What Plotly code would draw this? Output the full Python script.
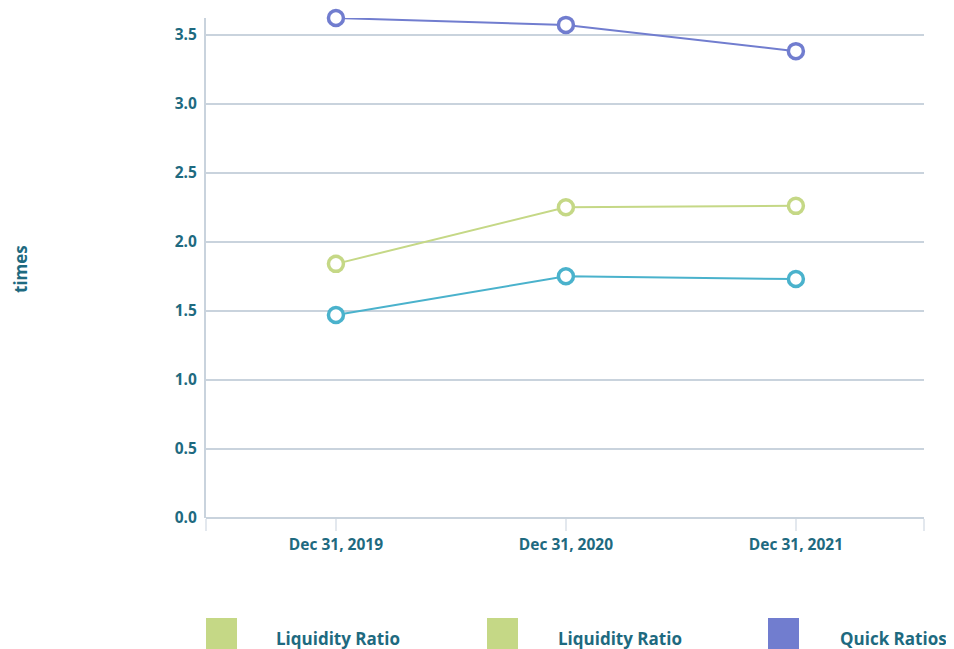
import plotly.graph_objects as go

categories = ["Dec 31, 2019", "Dec 31, 2020", "Dec 31, 2021"]
current_ratio = [1.47, 1.75, 1.73]
liquidity_ratio = [1.84, 2.25, 2.26]
quick_ratio = [3.62, 3.57, 3.38]
legend_labels = ["Liquidity Ratio", "Liquidity Ratio", "Quick Ratios"]

TEXT = "#1e6a80"
GRID = "#c9d3dd"
TEAL = "#4ab2cc"
GREEN = "#c5d886"
PURPLE = "#717dcf"

xs = list(range(len(categories)))

fig = go.Figure()
for vals, col in [(current_ratio, TEAL), (liquidity_ratio, GREEN), (quick_ratio, PURPLE)]:
    fig.add_trace(go.Scatter(
        x=xs, y=vals, mode="lines+markers",
        line=dict(color=col, width=2),
        marker=dict(symbol="circle", size=15, color="white",
                    line=dict(color=col, width=3.5)),
        cliponaxis=False, showlegend=False, hoverinfo="y",
    ))

# page offset of 8px (body margin) is compensated
OFF = 8
L, W, T, H = 206 - OFF, 718, 18 - OFF, 500


def px(x):
    return (x - OFF - L) / W


def py(y):
    return (T + H - (y - OFF)) / H


legend_colors = [GREEN, GREEN, PURPLE]
sq_x = [206, 487, 768]
txt_x = [274, 556, 838]
shapes = []
annotations = []
for lab, col, sx, tx in zip(legend_labels, legend_colors, sq_x, txt_x):
    shapes.append(dict(type="rect", xref="paper", yref="paper",
                       x0=px(sx), x1=px(sx + 31), y0=py(649), y1=py(618),
                       fillcolor=col, line=dict(width=0)))
    annotations.append(dict(text=lab, xref="paper", yref="paper",
                            x=px(tx), y=py(638), xanchor="left", yanchor="middle",
                            showarrow=False,
                            font=dict(family="Open Sans", size=17, color=TEXT, weight="bold")))

annotations.append(dict(text="times", xref="paper", yref="paper",
                        x=px(20), y=py(269), xanchor="center", yanchor="middle",
                        textangle=-90, showarrow=False,
                        font=dict(family="Open Sans", size=17, color=TEXT, weight="bold")))

fig.update_layout(
    width=954 - OFF, height=649 - OFF,
    margin=dict(l=L, r=954 - OFF - L - W, t=T, b=649 - OFF - T - H),
    plot_bgcolor="white", paper_bgcolor="white",
    font=dict(family="Open Sans", color=TEXT, weight="bold"),
    shapes=shapes, annotations=annotations,
    xaxis=dict(
        range=[-0.565, 2.557],
        tickvals=[-0.565] + xs + [2.557],
        ticktext=[""] + categories + [""],
        showgrid=False, zeroline=False, showline=False,
        ticks="outside", ticklen=12, tickwidth=1.5, tickcolor="#e3e8ee",
        tickfont=dict(size=15.5, color=TEXT, family="Open Sans", weight="bold"),
    ),
    yaxis=dict(
        range=[0, 3.62], dtick=0.5, tickformat=".1f",
        showgrid=True, gridcolor=GRID, gridwidth=2,
        zeroline=True, zerolinecolor=GRID, zerolinewidth=2,
        showline=True, linecolor=GRID, linewidth=2,
        ticks="", ticklabelstandoff=4,
        tickfont=dict(size=15.5, color=TEXT, family="Open Sans", weight="bold"),
    ),
)

fig.write_html("out.html")
